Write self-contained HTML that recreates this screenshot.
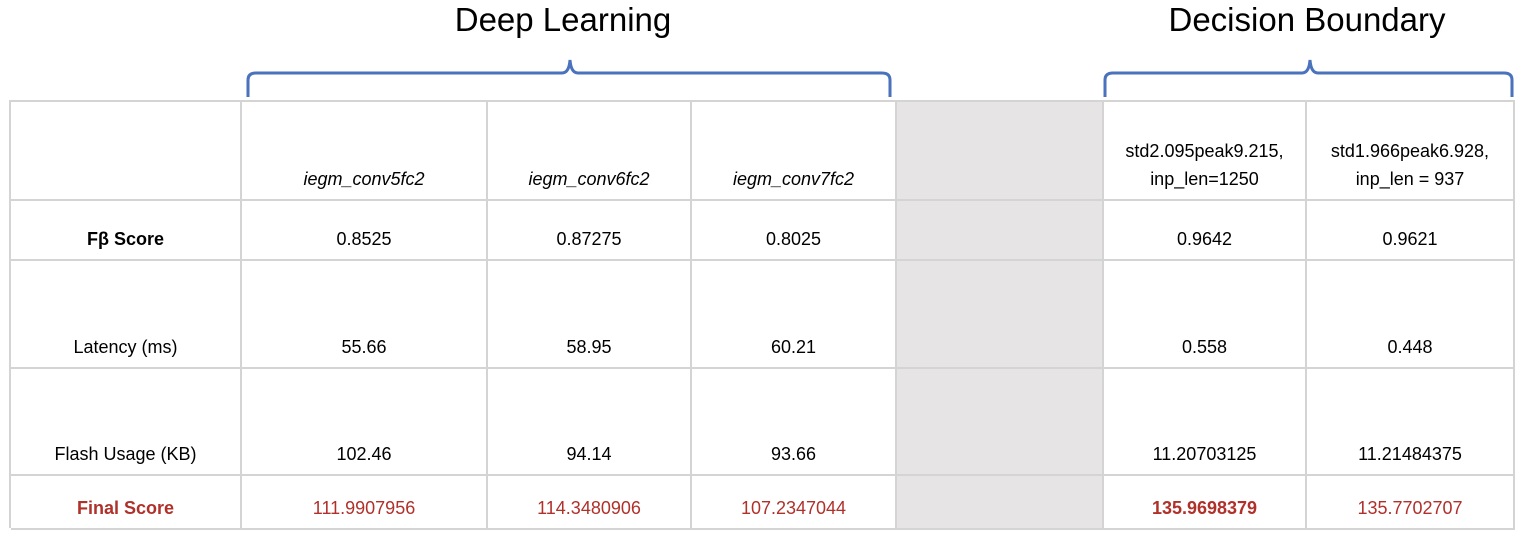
<!DOCTYPE html>
<html><head><meta charset="utf-8"><style>
body{margin:0;width:1524px;height:542px;background:#fff;overflow:hidden;font-family:"Liberation Sans",sans-serif;position:relative}
.t{position:absolute;font-size:33px;color:#000;white-space:nowrap;transform:translateX(-50%)}
.c{position:absolute;box-sizing:border-box;border-right:2px solid #d4d4d4;border-bottom:2px solid #d4d4d4;display:flex;align-items:flex-end;justify-content:center;text-align:center;font-size:18px;color:#000;padding-bottom:6px;line-height:28px}
.g{background:#e6e4e4}
.r{color:#b0302a}
.b{font-weight:bold}
.i{font-style:italic}
svg{position:absolute;left:0;top:0}
</style></head><body>
<div class="t" style="left:563px;top:1px">Deep Learning</div>
<div class="t" style="left:1307px;top:1px">Decision Boundary</div>
<svg width="1524" height="110">
<path d="M248 97 V80 Q248 73 256 73 H562 Q569 73 570 60 Q571 73 578 73 H882 Q890 73 890 80 V97" fill="none" stroke="#4a72bd" stroke-width="3"/>
<path d="M1105 97 V80 Q1105 73 1113 73 H1302 Q1309 73 1310 60 Q1311 73 1318 73 H1504 Q1512 73 1512 80 V97" fill="none" stroke="#4a72bd" stroke-width="3"/>
</svg>
<div id="tbl" style="position:absolute;left:9px;top:100px;width:1506px;height:428px;border-left:2px solid #d4d4d4;border-top:2px solid #d4d4d4;box-sizing:border-box"></div>
<script>
const cols=[10,241,487,691,896,1103,1306,1514];
const rows=[101,200,260,368,475,529];
const headers=["","iegm_conv5fc2","iegm_conv6fc2","iegm_conv7fc2","","std2.095peak9.215,<br>inp_len=1250","std1.966peak6.928,<br>inp_len = 937"];
const labels=["Fβ Score","Latency (ms)","Flash Usage (KB)","Final Score"];
const fbeta=["0.8525","0.87275","0.8025","","0.9642","0.9621"];
const latency=["55.66","58.95","60.21","","0.558","0.448"];
const flash=["102.46","94.14","93.66","","11.20703125","11.21484375"];
const finalScore=["111.9907956","114.3480906","107.2347044","","135.9698379","135.7702707"];
const data=[fbeta,latency,flash,finalScore];
function cell(r,c,html,cls,name){
  const d=document.createElement('div');
  d.className='c '+cls;
  d.style.left=(cols[c]-10)+'px';d.style.top=(rows[r]-101)+'px';
  d.style.width=(cols[c+1]-cols[c])+'px';d.style.height=(rows[r+1]-rows[r])+'px';
  d.innerHTML=html;
  
  
  document.getElementById('tbl').appendChild(d);
}
for(let c=0;c<7;c++){
  let cls=(c>=1&&c<=3)?'i':'';
  if(c==4)cls+=' g';
  cell(0,c,headers[c],cls,'header-cell');
}
for(let r=0;r<4;r++){
  const red=r==3;
  cell(r+1,0,labels[r],(r==0||red?'b ':'')+(red?'r':''),'row-label');
  for(let c=0;c<6;c++){
    let cls=(c==3?'g ':'')+(red?'r':'');
    if(red&&c==4)cls+=' b';
    cell(r+1,c+1,data[r][c],cls,'value-cell');
  }
}
</script>
</body></html>
